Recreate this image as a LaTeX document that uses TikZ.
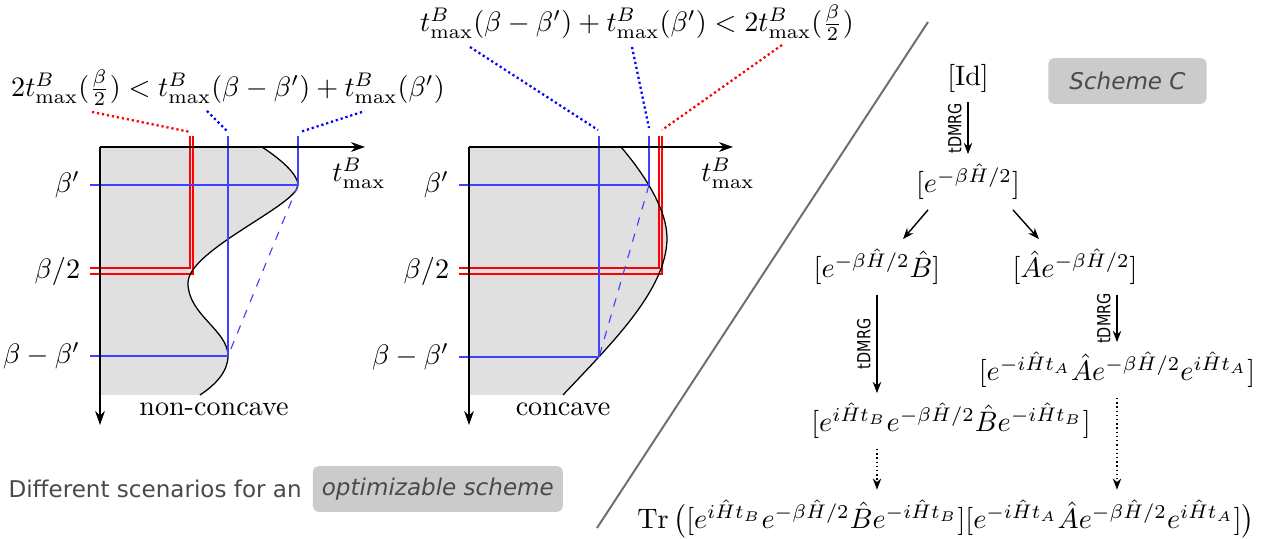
\documentclass[tikz,border=0pt]{standalone}
\usepackage{fontspec}
\setsansfont{DejaVu Sans}
\usepackage{amsmath}
\usepackage{graphicx}
\usetikzlibrary{arrows.meta,positioning,calc}
\definecolor{pillgrey}{HTML}{CBCBCB}
\definecolor{inkgrey}{HTML}{4A4A4A}
\definecolor{areagrey}{HTML}{E0E0E0}
\definecolor{splitgrey}{HTML}{6E6E6E}
\definecolor{lineblue}{HTML}{4040FF}
\tikzset{
  >={Stealth[length=4pt,width=3pt]},
  % plots
  taxis/.style={-{Stealth[length=5pt,width=3.5pt]},line width=0.45pt},
  area/.style={fill=areagrey},
  tcurve/.style={draw=black,line width=0.45pt},
  bl/.style={draw=lineblue,line width=0.4pt},
  bdash/.style={bl,dashed},
  rl/.style={draw=red,line width=0.45pt},
  bdot/.style={draw=blue,densely dotted,line width=0.8pt},
  rdot/.style={draw=red,densely dotted,line width=0.8pt},
  % scheme
  flow/.style={->,line width=0.5pt},
  flowdot/.style={->,densely dotted,line width=0.5pt},
  tdm/.style={rotate=90,anchor=south,inner sep=2pt,
              font=\sffamily\fontsize{6.4}{7}\selectfont},
  pill/.style={fill=pillgrey,text=inkgrey,rounded corners=2pt,
               font=\sffamily\itshape\fontsize{8.2}{10}\selectfont,minimum height=16.3pt},
  captext/.style={text=inkgrey,font=\sffamily\fontsize{8.2}{10}\selectfont},
  split/.style={draw=splitgrey,line width=0.7pt},
}

\begin{document}
\begin{tikzpicture}[x=0.0125cm,y=-0.0125cm]
\useasboundingbox (0,0) rectangle (1268,539);
% non-concave
\fill[area] (100,147) -- (262,147) .. controls (285,162) and (298,176) .. (298,185)
  .. controls (298,205) and (188,250) .. (188,283)
  .. controls (188,315) and (228,330) .. (228,356)
  .. controls (228,372) and (215,385) .. (200,395) -- (100,395) -- cycle;
\draw[rl] (90,268) -- (190,268) -- (190,136);
\draw[rl] (90,274) -- (193,274) -- (193,136);
\node[left] at (90,271) {$\beta/2$};
\draw[tcurve] (262,147) .. controls (285,162) and (298,176) .. (298,185)
  .. controls (298,205) and (188,250) .. (188,283)
  .. controls (188,315) and (228,330) .. (228,356)
  .. controls (228,372) and (215,385) .. (200,395);
\draw[bl] (90,185) node[left] {$\beta'$} -- (298,185);
\draw[bl] (90,356) node[left] {$\beta-\beta'$} -- (228,356);
\draw[bl] (228,136) -- (228,356);
\draw[bl] (298,136) -- (298,185);
\draw[bdash] (298,185) -- (228,356);
\draw[taxis] (100,147) -- (100,425);
\draw[taxis] (100,147) -- (365,147);
\node at (359,173) {$t^B_{\max}$};
\node at (214,409) {non-concave};
\node (ineq1) at (228,88) {$2t^B_{\max}(\frac{\beta}{2}) < t^B_{\max}(\beta-\beta') + t^B_{\max}(\beta')$};
\draw[rdot] (92,112) -- (190,132);
\draw[bdot] (207,111) -- (227,131);
\draw[bdot] (362,112) -- (300,132);
% concave
\begin{scope}[shift={(369,0)}]
\fill[area] (100,147) -- (252,147) .. controls (276,175) and (298,210) .. (298,238)
  .. controls (298,290) and (241,345) .. (194,395) -- (100,395) -- cycle;
\draw[rl] (90,268) -- (290,268) -- (290,136);
\draw[rl] (90,274) -- (293,274) -- (293,136);
\node[left] at (90,271) {$\beta/2$};
\draw[tcurve] (252,147) .. controls (276,175) and (298,210) .. (298,238)
  .. controls (298,290) and (241,345) .. (194,395);
\draw[bl] (90,185) node[left] {$\beta'$} -- (280,185);
\draw[bl] (90,357) node[left] {$\beta-\beta'$} -- (230,357);
\draw[bl] (230,136) -- (230,357);
\draw[bl] (280,136) -- (280,185);
\draw[bdash] (280,185) -- (230,357);
\draw[taxis] (100,147) -- (100,425);
\draw[taxis] (100,147) -- (364,147);
\node at (359,173) {$t^B_{\max}$};
\node at (194,409) {concave};
\node (ineq2) at (268,23) {$t^B_{\max}(\beta-\beta') + t^B_{\max}(\beta') < 2t^B_{\max}(\frac{\beta}{2})$};
\draw[bdot] (101,47) -- (229,130);
\draw[bdot] (263,47) -- (280,128);
\draw[rdot] (413,45) -- (293,130);
\end{scope}
\draw[split] (928,22) -- (597,528);
% scheme C
\node (id) at (968,78) {$[\mathrm{Id}]$};
\node (half) at (968,182) {$[e^{-\beta\hat{H}/2}]$};
\node (hB) at (877,267) {$[e^{-\beta\hat{H}/2}\hat{B}]$};
\node (Ah) at (1075,267) {$[\hat{A}e^{-\beta\hat{H}/2}]$};
\node (tA) at (1117,370) {$[e^{-i\hat{H}t_A}\hat{A}e^{-\beta\hat{H}/2}e^{i\hat{H}t_A}]$};
\node (tB) at (951,421) {$[e^{i\hat{H}t_B}e^{-\beta\hat{H}/2}\hat{B}e^{-i\hat{H}t_B}]$};
\node (tr) at (946,519) {$\mathrm{Tr}\,\bigl([e^{i\hat{H}t_B}e^{-\beta\hat{H}/2}\hat{B}e^{-i\hat{H}t_B}][e^{-i\hat{H}t_A}\hat{A}e^{-\beta\hat{H}/2}e^{i\hat{H}t_A}]\bigr)$};
\draw[flow] (id) -- node[tdm] {\scalebox{0.8}[1]{tDMRG}} (half);
\draw[flow] ($(half.south)+(-40,0)$) -- ($(hB.north)+(26,0)$);
\draw[flow] ($(half.south)+(45,0)$) -- ($(Ah.north)+(-36,0)$);
\draw[flow] (hB.south) -- node[tdm] {\scalebox{0.8}[1]{tDMRG}} (hB.south |- tB.north);
\draw[flow] (tA.north |- Ah.south) -- node[tdm] {\scalebox{0.8}[1]{tDMRG}} (tA.north);
\draw[flowdot] (hB.south |- tB.south) -- (hB.south |- tr.north);
\draw[flowdot] (tA.south) -- (tA.south |- tr.north);
\node[pill,minimum width=56.3pt] (schemeC) at (1127.5,81) {Scheme C};
\node[captext,anchor=west,inner sep=0pt] (scen) at (8,489) {Different scenarios for an};
\node[pill,inner xsep=3.2pt,right=10 of scen] (optim) {optimizable scheme};
\end{tikzpicture}
\end{document}
